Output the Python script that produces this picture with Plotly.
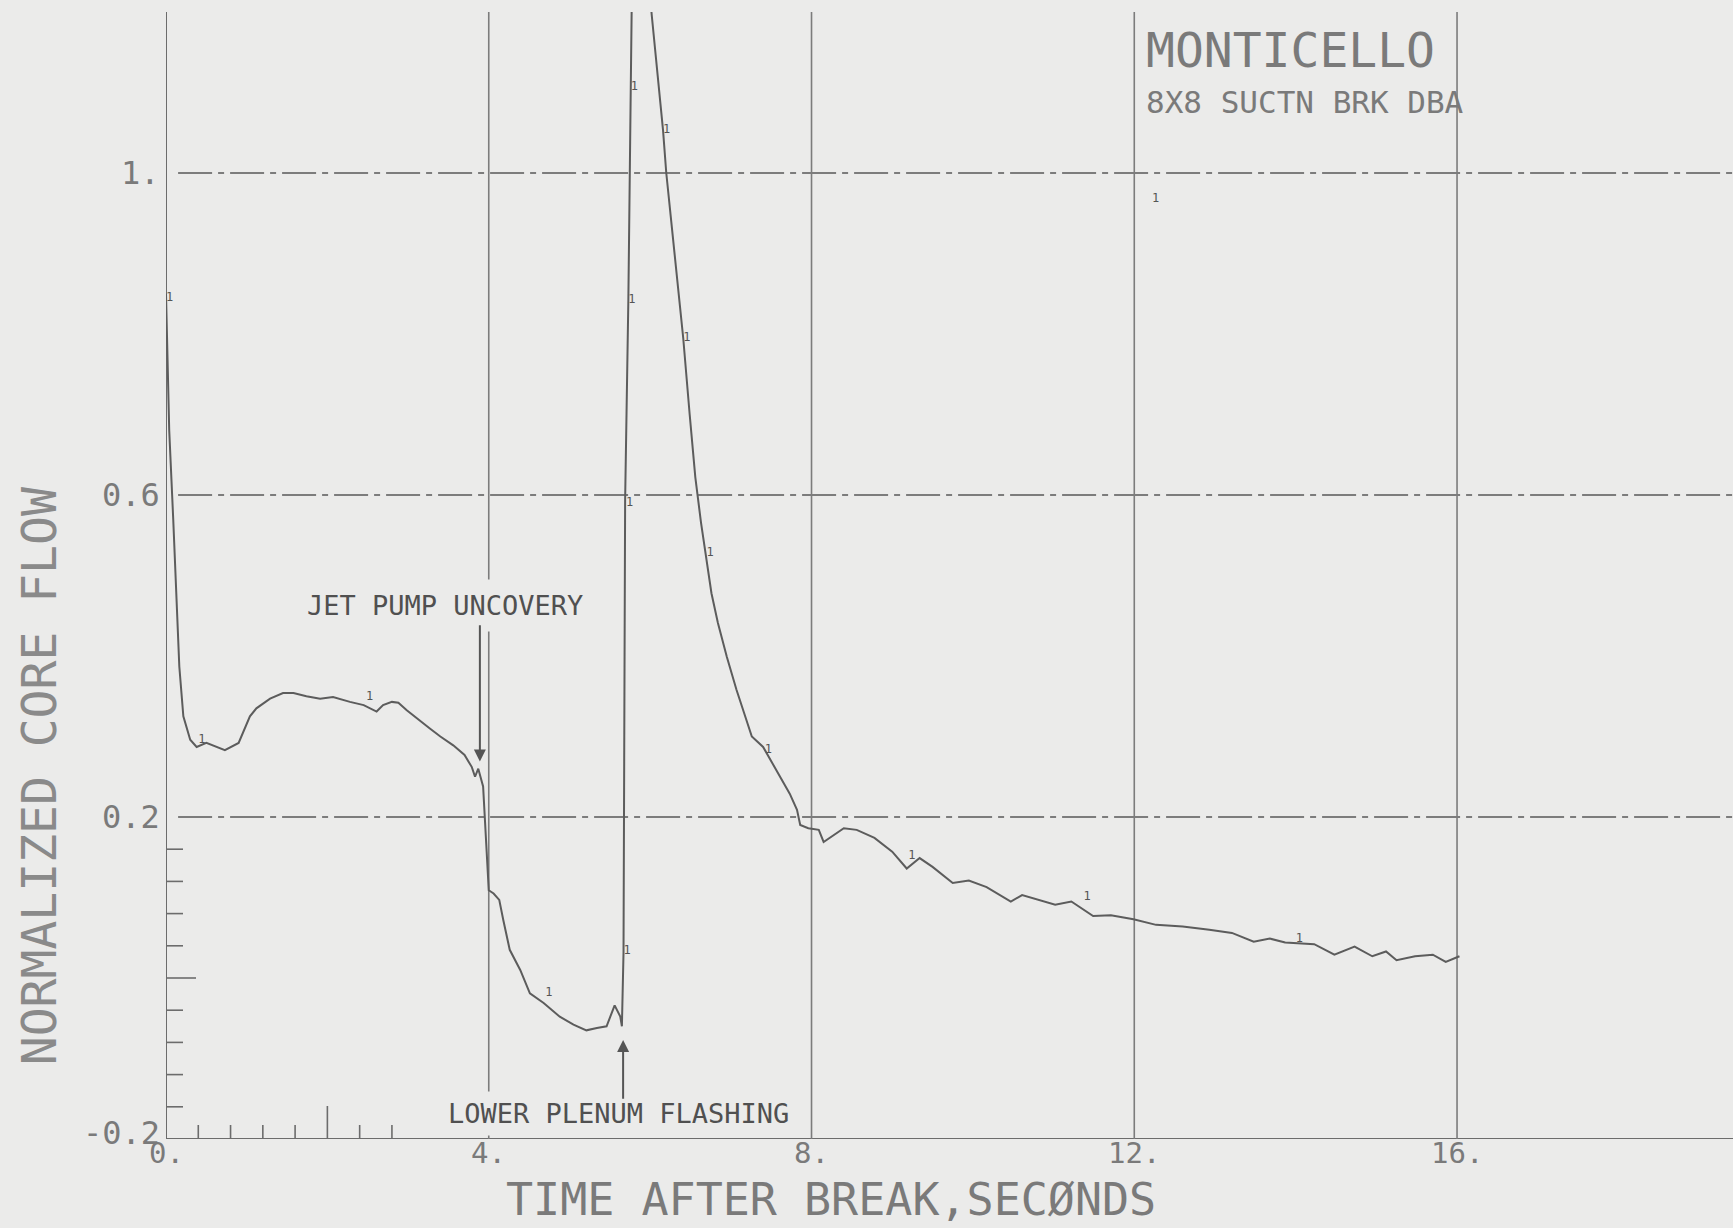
import plotly.graph_objects as go

# Normalized core flow vs. time after break (Monticello, 8x8 suction break DBA)
time_s = [0.00, 0.04, 0.09, 0.13, 0.165, 0.215, 0.30, 0.38, 0.50, 0.73, 0.90,
          1.04, 1.12, 1.29, 1.45, 1.58, 1.74, 1.91, 2.07, 2.28, 2.45, 2.61,
          2.69, 2.80, 2.88, 2.98, 3.10, 3.27, 3.40, 3.56, 3.70, 3.79, 3.83,
          3.87, 3.93, 3.95, 4.00, 4.06, 4.13, 4.18, 4.26, 4.39, 4.51, 4.68,
          4.88, 5.05, 5.21, 5.34, 5.46, 5.56, 5.63, 5.65, 5.67, 5.69, 5.73,
          5.76, 5.80, 6.02, 6.16, 6.20, 6.31, 6.41, 6.49, 6.56, 6.63, 6.70,
          6.76, 6.84, 6.95, 7.07, 7.20, 7.26, 7.40, 7.57, 7.73, 7.82, 7.86,
          7.96, 8.09, 8.15, 8.40, 8.56, 8.78, 9.00, 9.14, 9.18, 9.34, 9.50,
          9.75, 9.95, 10.17, 10.47, 10.61, 10.83, 11.02, 11.22, 11.49, 11.71,
          11.99, 12.27, 12.60, 12.93, 13.21, 13.48, 13.68, 13.87, 14.01,
          14.23, 14.48, 14.73, 14.95, 15.12, 15.25, 15.48, 15.70, 15.86, 16.03]
core_flow = [0.850, 0.680, 0.569, 0.470, 0.387, 0.325, 0.296, 0.287, 0.292,
             0.283, 0.292, 0.325, 0.335, 0.347, 0.354, 0.354, 0.350, 0.347,
             0.349, 0.343, 0.339, 0.331, 0.339, 0.343, 0.342, 0.333, 0.323,
             0.310, 0.300, 0.289, 0.277, 0.262, 0.250, 0.260, 0.238, 0.198,
             0.109, 0.105, 0.097, 0.072, 0.035, 0.010, -0.019, -0.031, -0.048,
             -0.058, -0.065, -0.062, -0.060, -0.034, -0.048, -0.060, 0.031,
             0.594, 0.842, 1.107, 1.450, 1.196, 1.053, 1.000, 0.892, 0.795,
             0.700, 0.622, 0.566, 0.520, 0.478, 0.441, 0.399, 0.358, 0.320,
             0.300, 0.287, 0.258, 0.229, 0.209, 0.190, 0.186, 0.184, 0.169,
             0.186, 0.184, 0.174, 0.157, 0.140, 0.136, 0.149, 0.138, 0.118,
             0.121, 0.113, 0.095, 0.103, 0.097, 0.091, 0.095, 0.077, 0.078,
             0.073, 0.066, 0.064, 0.060, 0.056, 0.045, 0.049, 0.044, 0.043,
             0.042, 0.029, 0.039, 0.027, 0.033, 0.022, 0.027, 0.029, 0.020,
             0.027]

# Curve identification symbols plotted along the trace
symbol_t = [0.0, 0.40, 2.48, 4.70, 5.67, 5.70, 5.73, 5.76, 6.16, 6.41, 6.70,
            7.42, 9.20, 11.37, 14.0, 12.22]
symbol_v = [0.845, 0.296, 0.349, -0.019, 0.033, 0.59, 0.842, 1.107, 1.053,
            0.795, 0.528, 0.283, 0.151, 0.101, 0.049, 0.968]

x_ticks = [0, 4, 8, 12, 16]
x_tick_text = ["0.", "4.", "8.", "12.", "16."]
y_ticks = [-0.2, 0.2, 0.6, 1.0]
y_tick_text = ["-0.2", "0.2", "0.6", "1."]
y_minor = [-0.16, -0.12, -0.08, -0.04, 0.0, 0.04, 0.08, 0.12, 0.16]
x_minor = [0.4, 0.8, 1.2, 1.6, 2.0, 2.4, 2.8]

X_MAX = 19.42
Y_MIN, Y_MAX = -0.2, 1.2
BG = "#ebebea"
INK = "#5c5c5c"
GRID = "#7c7c7c"
LABEL = "#7a7a7a"
FONT = "DejaVu Sans Mono"

fig = go.Figure()

fig.add_trace(go.Scatter(
    x=time_s, y=core_flow, mode="lines",
    line=dict(color=INK, width=2), hoverinfo="skip", showlegend=False))

fig.add_trace(go.Scatter(
    x=symbol_t, y=symbol_v, mode="text", text=["1"] * len(symbol_t),
    textposition="middle right",
    textfont=dict(family=FONT, size=12, color="#555555"),
    hoverinfo="skip", showlegend=False, cliponaxis=False))

shapes = []
# axis frame
shapes.append(dict(type="line", xref="x", yref="y", x0=0, x1=0, y0=Y_MIN, y1=Y_MAX,
                   line=dict(color="#6c6c6c", width=2), layer="below"))
shapes.append(dict(type="line", xref="x", yref="y", x0=0, x1=X_MAX, y0=Y_MIN, y1=Y_MIN,
                   line=dict(color="#6c6c6c", width=2), layer="below"))
# vertical grid
for gx in [4, 8, 12, 16]:
    shapes.append(dict(type="line", xref="x", yref="y", x0=gx, x1=gx, y0=Y_MIN, y1=Y_MAX,
                       line=dict(color=GRID, width=1.6), layer="below"))
# horizontal dash-dot grid
for gy in [0.2, 0.6, 1.0]:
    shapes.append(dict(type="line", xref="x", yref="y", x0=0.15, x1=X_MAX, y0=gy, y1=gy,
                       line=dict(color=GRID, width=1.8, dash="34px,6px,6px,6px"),
                       layer="below"))
# minor ticks on the y axis (inside)
for v in y_minor:
    length = 30 if abs(v) < 1e-9 else 17
    shapes.append(dict(type="line", xref="x", yref="y", xsizemode="pixel", xanchor=0,
                       x0=0, x1=length, y0=v, y1=v,
                       line=dict(color="#6c6c6c", width=1.6)))
# minor ticks on the x axis (inside)
for t in x_minor:
    length = 33 if abs(t - 2.0) < 1e-9 else 14
    shapes.append(dict(type="line", xref="x", yref="y", ysizemode="pixel", yanchor=Y_MIN,
                       x0=t, x1=t, y0=0, y1=length,
                       line=dict(color="#6c6c6c", width=1.6)))

annotations = [
    dict(text="JET PUMP UNCOVERY", x=3.457, y=0.463, xref="x", yref="y",
         showarrow=False, font=dict(family=FONT, size=27, color="#505050"),
         bgcolor=BG, borderpad=10),
    dict(text="LOWER PLENUM FLASHING", x=5.61, y=-0.168, xref="x", yref="y",
         showarrow=False, font=dict(family=FONT, size=27, color="#505050"),
         bgcolor=BG, borderpad=6),
    # arrows
    dict(text="", x=3.89, y=0.269, ax=3.89, ay=0.44, xref="x", yref="y",
         axref="x", ayref="y", showarrow=True, arrowhead=2, arrowsize=1.2,
         arrowwidth=2, arrowcolor="#555555"),
    dict(text="", x=5.665, y=-0.077, ax=5.665, ay=-0.152, xref="x", yref="y",
         axref="x", ayref="y", showarrow=True, arrowhead=2, arrowsize=1.2,
         arrowwidth=2, arrowcolor="#555555"),
    dict(text="MONTICELLO", x=12.12, y=1.153, xref="x", yref="y", xanchor="left",
         yanchor="middle", showarrow=False,
         font=dict(family=FONT, size=48, color=LABEL)),
    dict(text="8X8 SUCTN BRK DBA", x=12.12, y=1.088, xref="x", yref="y",
         xanchor="left", yanchor="middle", showarrow=False,
         font=dict(family=FONT, size=31, color=LABEL)),
    dict(text="TIME AFTER BREAK,SECØNDS", x=8.24, y=-0.0785, xref="x", yref="paper",
         xanchor="center", yanchor="bottom", showarrow=False, borderpad=0,
         font=dict(family=FONT, size=45, color=LABEL)),
    dict(text="NORMALIZED CORE FLOW", x=-0.081, y=0.322, xref="paper", yref="paper",
         xanchor="center", yanchor="middle", textangle=-90, showarrow=False,
         font=dict(family=FONT, size=48, color="#8a8a8a")),
]

# y tick labels, right-aligned just left of the axis
for val, txt in zip(y_ticks, y_tick_text):
    annotations.append(dict(
        text=txt, x=0, y=val, xref="x", yref="y", xanchor="right",
        yanchor="middle", xshift=-4, yshift=6 if val == Y_MIN else 0,
        showarrow=False, font=dict(family=FONT, size=32, color=LABEL)))

# x tick labels, just under the axis
for val, txt in zip(x_ticks, x_tick_text):
    annotations.append(dict(
        text=txt, x=val, y=Y_MIN, xref="x", yref="y", xanchor="center",
        yanchor="top", yshift=4, borderpad=0, showarrow=False,
        font=dict(family=FONT, size=29, color=LABEL)))

fig.update_layout(
    width=1733, height=1228,
    margin=dict(l=166, r=0, t=12, b=89),
    paper_bgcolor=BG, plot_bgcolor=BG,
    showlegend=False,
    shapes=shapes,
    annotations=annotations,
    xaxis=dict(range=[0, X_MAX], showgrid=False, zeroline=False, showline=False,
               showticklabels=False, ticks=""),
    yaxis=dict(range=[Y_MIN, Y_MAX], showgrid=False, zeroline=False, showline=False,
               showticklabels=False, ticks=""),
)

fig.write_html("out.html")
